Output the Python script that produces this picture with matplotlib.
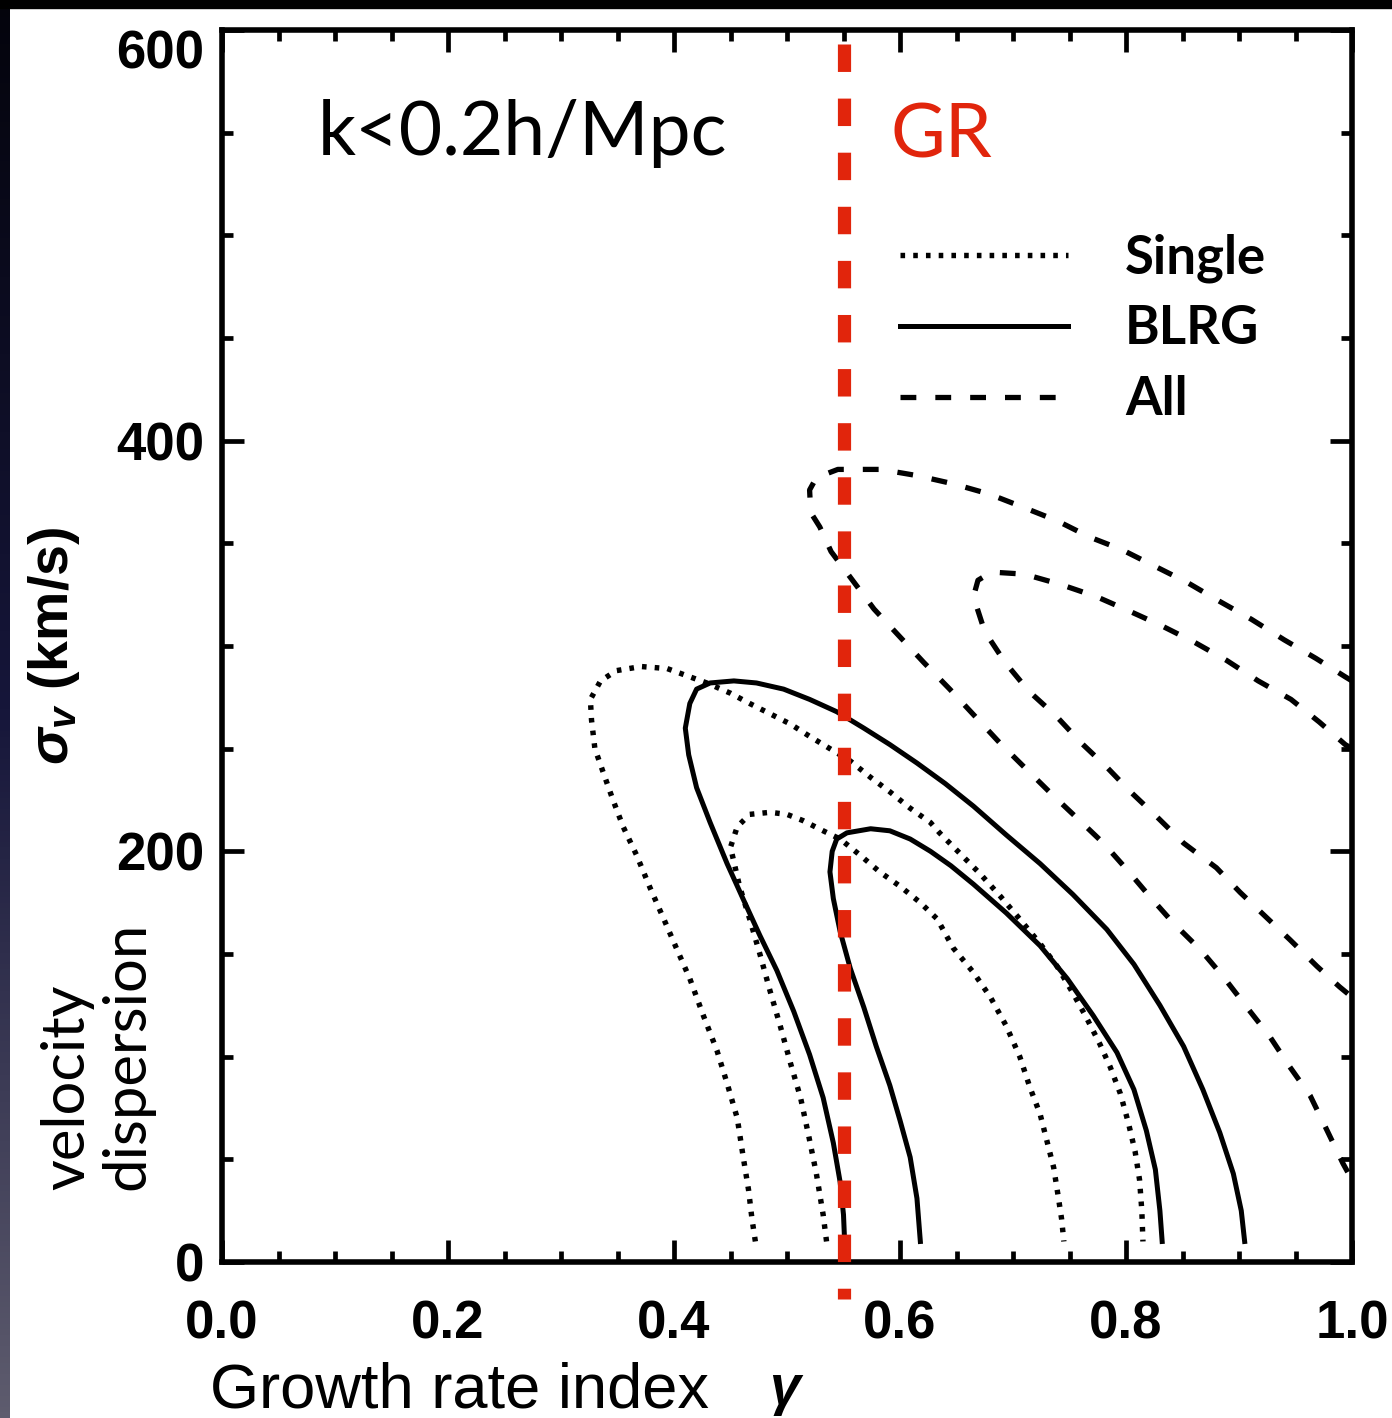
import numpy as np
import matplotlib
matplotlib.use("Agg")
import matplotlib.pyplot as plt
from matplotlib.lines import Line2D
from matplotlib.patches import Rectangle
from matplotlib.colors import LinearSegmentedColormap
from matplotlib.ticker import MultipleLocator

plt.rcParams['mathtext.fontset'] = 'custom'
plt.rcParams['mathtext.it'] = 'Liberation Sans:italic:bold'
plt.rcParams['mathtext.rm'] = 'Liberation Sans:bold'
plt.rcParams['mathtext.bf'] = 'Liberation Sans:bold'

# --- contours (gamma, sigma_v) ---
single_out_g = [0.472, 0.469, 0.466, 0.461, 0.456, 0.447, 0.438, 0.426, 0.414, 0.402, 0.391, 0.379, 0.367,
                0.355, 0.346, 0.337, 0.330, 0.327, 0.326, 0.335, 0.349, 0.371, 0.394, 0.414, 0.429, 0.450,
                0.467, 0.485, 0.503, 0.520, 0.538, 0.556, 0.574, 0.591, 0.609, 0.627, 0.635, 0.653, 0.671,
                0.689, 0.706, 0.724, 0.739, 0.753, 0.765, 0.777, 0.786, 0.795, 0.802, 0.808, 0.812, 0.814, 0.815]
single_out_s = [10, 21, 35, 52, 70, 87, 103, 120, 138, 153, 167, 182, 198, 212, 225, 239, 250, 264, 274, 283,
                288, 290, 289, 285, 282, 277, 272, 267, 262, 256, 250, 244, 236, 229, 221, 214, 209, 199, 189,
                178, 167, 155, 144, 131, 119, 106, 95, 82, 68, 54, 40, 25, 10]

single_in_g = [0.535, 0.532, 0.526, 0.519, 0.512, 0.503, 0.494, 0.485, 0.476, 0.467, 0.458, 0.450, 0.456, 0.467,
               0.485, 0.500, 0.514, 0.532, 0.547, 0.565, 0.582, 0.600, 0.618, 0.633, 0.647, 0.665, 0.680, 0.694,
               0.706, 0.715, 0.724, 0.730, 0.736, 0.740, 0.743, 0.745]
single_in_s = [10, 23, 43, 62, 80, 97, 115, 132, 150, 167, 183, 202, 212, 218, 219, 218, 215, 210, 206, 198, 190,
               183, 175, 167, 153, 141, 129, 115, 100, 85, 72, 59, 46, 32, 21, 10]

blrg_out_g = [0.551, 0.550, 0.547, 0.541, 0.532, 0.520, 0.506, 0.491, 0.476, 0.461, 0.447, 0.432, 0.420, 0.413,
              0.410, 0.414, 0.420, 0.432, 0.453, 0.473, 0.497, 0.520, 0.544, 0.568, 0.591, 0.615, 0.640, 0.665,
              0.694, 0.724, 0.753, 0.783, 0.807, 0.830, 0.851, 0.868, 0.883, 0.895, 0.902, 0.905]
blrg_out_s = [10, 23, 39, 58, 80, 101, 122, 142, 159, 177, 194, 214, 231, 247, 260, 272, 279, 282, 283, 282, 279,
              274, 268, 260, 252, 243, 233, 222, 208, 194, 179, 162, 145, 125, 105, 84, 63, 43, 25, 10]

blrg_in_g = [0.618, 0.615, 0.609, 0.600, 0.591, 0.579, 0.568, 0.556, 0.547, 0.541, 0.538, 0.540, 0.544, 0.553,
             0.574, 0.591, 0.609, 0.627, 0.645, 0.665, 0.694, 0.724, 0.748, 0.771, 0.792, 0.807, 0.818, 0.826,
             0.830, 0.832]
blrg_in_s = [10, 31, 51, 69, 86, 105, 124, 143, 161, 177, 190, 200, 206, 209, 211, 210, 206, 200, 193, 184, 170,
             154, 138, 120, 102, 84, 64, 45, 25, 10]

all_out_g = [1.0, 0.994, 0.968, 0.940, 0.911, 0.882, 0.854, 0.825, 0.796, 0.768, 0.739, 0.707, 0.679, 0.647,
             0.615, 0.583, 0.545, 0.526, 0.520, 0.521, 0.529, 0.539, 0.558, 0.577, 0.599, 0.621, 0.644, 0.666,
             0.688, 0.710, 0.734, 0.759, 0.780, 0.801, 0.821, 0.842, 0.866, 0.886, 0.907, 0.927, 0.945, 0.963,
             0.978, 0.992, 1.0]
all_out_s = [283, 285, 294, 303, 313, 322, 331, 339, 347, 353, 361, 368, 374, 379, 383, 386, 386, 382, 376, 365,
             358, 346, 332, 318, 305, 292, 279, 266, 253, 241, 228, 215, 204, 191, 178, 165, 152, 139, 124, 110,
             95, 81, 64, 48, 40]

all_in_g = [1.0, 0.994, 0.971, 0.946, 0.917, 0.889, 0.860, 0.831, 0.803, 0.774, 0.742, 0.710, 0.681, 0.669,
            0.665, 0.675, 0.693, 0.714, 0.738, 0.760, 0.783, 0.804, 0.827, 0.851, 0.880, 0.901, 0.922, 0.945,
            0.969, 0.989, 1.0]
all_in_s = [250, 252, 263, 274, 283, 293, 302, 310, 317, 324, 330, 335, 336, 332, 324, 307, 292, 278, 266, 253,
            241, 229, 217, 204, 192, 180, 169, 157, 144, 134, 129]

gamma_gr = 0.55
gr_range = [593, -18]

x_ticks = [0.0, 0.2, 0.4, 0.6, 0.8, 1.0]
x_labels = ["0.0", "0.2", "0.4", "0.6", "0.8", "1.0"]
y_ticks = [0, 200, 400, 600]
y_labels = ["0", "200", "400", "600"]
legend_labels = ["Single", "BLRG", "All"]

RED = "#e1250c"
DOT = (0, (0.85, 1.5))
DASH = (0, (3.0, 3.6))
LW_DOT, LW_SOLID, LW_DASH = 3.9, 3.6, 3.8

fig = plt.figure(figsize=(13.92, 14.18), dpi=100)
fig.patch.set_facecolor("white")

# bandes sombres de la diapositive (gauche et haut)
strip = fig.add_axes([0, 0, 10 / 1392, 1])
cmap_bg = LinearSegmentedColormap.from_list("bg", ["#04040c", "#16163a", "#5e5c6e"])
strip.imshow(np.linspace(0, 1, 256).reshape(-1, 1), aspect="auto", cmap=cmap_bg)
strip.axis("off")
fig.add_artist(Rectangle((0, 1 - 8 / 1418), 1, 8 / 1418, transform=fig.transFigure,
                         color="black", zorder=10))

ax = fig.add_axes([222 / 1392, 156 / 1418, 1130 / 1392, 1232 / 1418])

ax.plot(single_out_g, single_out_s, color="black", lw=LW_DOT, ls=DOT)
ax.plot(single_in_g, single_in_s, color="black", lw=LW_DOT, ls=DOT)
ax.plot(blrg_out_g, blrg_out_s, color="black", lw=LW_SOLID, ls="-")
ax.plot(blrg_in_g, blrg_in_s, color="black", lw=LW_SOLID, ls="-")
ax.plot(all_out_g, all_out_s, color="black", lw=LW_DASH, ls=DASH)
ax.plot(all_in_g, all_in_s, color="black", lw=LW_DASH, ls=DASH)

# ligne GR
ax.plot([gamma_gr, gamma_gr], gr_range, color=RED, lw=9.5, ls=(0, (2.08, 2.02)),
        clip_on=False, zorder=5, solid_capstyle="butt", dash_capstyle="butt")

ax.set_xlim(0, 1)
ax.set_ylim(0, 600)
ax.set_xticks(x_ticks, x_labels)
ax.set_yticks(y_ticks, y_labels)
ax.xaxis.set_minor_locator(MultipleLocator(0.05))
ax.yaxis.set_minor_locator(MultipleLocator(50))
ax.tick_params(which="both", direction="in", top=True, right=True, width=3.4, color="black")
ax.tick_params(which="major", length=16)
ax.tick_params(which="minor", length=8)
ax.tick_params(axis="x", which="major", pad=27)
ax.tick_params(axis="y", which="major", pad=13)
for lab in ax.get_xticklabels() + ax.get_yticklabels():
    lab.set_fontfamily("Liberation Sans")
    lab.set_fontweight("bold")
    lab.set_fontsize(38)
ylabs = ax.get_yticklabels()
ylabs[0].set_va("center_baseline")
ylabs[-1].set_va("top")
for sp in ax.spines.values():
    sp.set_linewidth(4)

ax.set_xlabel(r"$\gamma$", fontsize=40)
ax.xaxis.set_label_coords(0.5, -0.083)
ax.set_ylabel(r"$\sigma_v$ (km/s)", fontsize=40, fontweight="bold", family="Liberation Sans")
ax.yaxis.set_label_coords(-0.124, 0.5)

handles = [Line2D([], [], color="black", lw=LW_DOT, ls=DOT),
           Line2D([], [], color="black", lw=LW_SOLID, ls="-"),
           Line2D([], [], color="black", lw=LW_DASH, ls=DASH)]
leg = ax.legend(handles, legend_labels, loc="upper left", bbox_to_anchor=(0.6, 0.835),
                frameon=False, borderpad=0, borderaxespad=0, handlelength=3.18,
                handletextpad=1.08, labelspacing=0.41,
                prop={"family": "Lato", "weight": "bold", "size": 38})

# textes ajoutés sur la diapositive
fig.text(318 / 1392, 1 - 155 / 1418, "k<0.2h/Mpc", family="Lato", fontsize=54,
         color="black", va="baseline", ha="left")
fig.text(890 / 1392, 1 - 157 / 1418, "GR", family="Lato", fontsize=54,
         color=RED, va="baseline", ha="left")
fig.text(210 / 1392, 1 - 1407 / 1418, "Growth rate index", family="Liberation Sans",
         fontsize=45.5, va="baseline", ha="left")
fig.text(40 / 1392, 1 - 1190 / 1418, "velocity\ndispersion", family="Lato", fontsize=43,
         rotation=90, ha="left", va="bottom", linespacing=1.15)

fig.savefig("out.png", dpi=100)
